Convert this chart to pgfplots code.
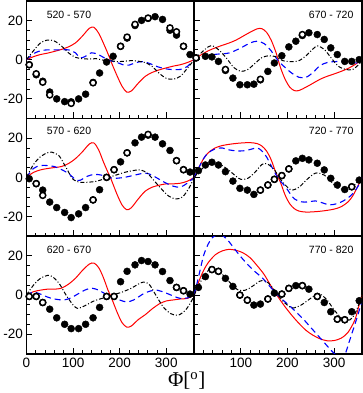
\documentclass[border=0pt]{standalone}
\usepackage{fontspec}
\setmainfont{Liberation Sans}
\newfontfamily\seriffont{Liberation Serif}
\usepackage{pgfplots}
\pgfplotsset{compat=1.18}
\usepgfplotslibrary{groupplots}

\pgfplotsset{
  redline/.style={color=red, line width=1pt, smooth, no markers},
  blueline/.style={color=blue, line width=1.1pt, dash pattern=on 6pt off 4pt, smooth, no markers},
  blackline/.style={color=black, line width=1pt, dash pattern=on 4pt off 2pt on 1pt off 2pt, smooth, no markers},
  fdot/.style={only marks, mark=*, mark size=3.5pt, mark options={fill=black, draw=black, solid}},
  odot/.style={only marks, mark=*, mark size=3pt, mark options={fill=white, draw=black, line width=1.5pt, solid}},
}
\tikzset{plabel/.style={font=\fontsize{10.5}{12}\selectfont, inner sep=0pt}}

\begin{document}
\begin{tikzpicture}
\begin{groupplot}[
  group style={group size=2 by 3, horizontal sep=0pt, vertical sep=0pt,
    xticklabels at=edge bottom, yticklabels at=edge left},
  width=167.5pt, height=117.5pt, scale only axis,
  xmin=0, xmax=360, ymin=-30, ymax=30,
  xtick={0,100,200,300}, minor x tick num=4,
  ytick={-20,0,20}, minor y tick num=3,
  tick align=inside, tick pos=left,
  axis line style={line width=1.6pt},
  major tick style={line width=0.8pt, black},
  minor tick style={line width=0.8pt, black},
  major tick length=6pt, minor tick length=3.5pt,
  tick label style={font=\fontsize{13.5}{14}\selectfont},
  /pgf/number format/assume math mode=true,
  xticklabel style={yshift=-1pt},
]
% 520 - 570
\nextgroupplot
\addplot[redline] coordinates {(0,0)(15,1.5)(30,2.6)(45,3.3)(60,4.2)(75,5.2)(90,6.5)(105,8.5)(120,12)(135,16)(145,16.5)(155,13.5)(165,8.5)(175,3)(180,0)(185,-3)(195,-8.5)(205,-13.5)(215,-16.5)(225,-16)(240,-12)(255,-8.5)(270,-6.5)(285,-5.2)(300,-4.2)(315,-3.3)(330,-2.6)(345,-1.5)(360,0)};
\addplot[blueline] coordinates {(0,0)(15,3)(30,4.5)(45,5)(60,5)(75,5)(90,5)(105,3.5)(115,1)(125,1.5)(140,3.5)(155,2.5)(170,0.5)(180,-0.5)(195,-1.5)(210,-2.8)(220,-2.8)(235,-1.5)(250,-1)(265,-2)(280,-3.5)(295,-4.5)(310,-5)(330,-5)(345,-3.5)(360,0)};
\addplot[blackline] coordinates {(0,0)(15,4.5)(30,8.5)(45,10)(60,9.5)(75,7)(90,3.5)(105,1.2)(120,0.5)(135,0.3)(150,0.5)(165,-0.3)(180,-0.5)(195,-1)(210,-0.8)(225,-0.5)(240,-0.8)(255,-1.5)(270,-3.5)(285,-7)(300,-9.5)(315,-10)(330,-8.5)(345,-4.5)(360,0)};
\addplot[fdot] coordinates {(6,-2.6)(21,-7.7)(35,-11)(50,-16.5)(65,-20)(82,-21.4)(96,-21.5)(112,-20)(127,-17.6)(143,-11.6)(157,-6.8)(172,-1.2)(186,1.7)(202,6.8)(216,11)(233,17.4)(247,20)(261,21)(276,21.9)(292,20.5)(308,15)(322,12.5)(337,6.8)(351,2.6)};
\addplot[odot] coordinates {(6,-2.6)(21,-7.2)(35,-11.5)(50,-18)(96,-22.3)(143,-11.8)(202,6.8)(216,11.5)(233,18)(261,21.2)(308,16.2)(322,14.2)(337,6.8)};
\node[plabel, anchor=north west] at (rel axis cs:0.12,0.915) {520 - 570};

% 670 - 720
\nextgroupplot
\addplot[redline] coordinates {(0,0)(15,2.5)(30,4.5)(45,6)(60,7.3)(75,8.5)(90,10)(105,12)(120,14)(135,15.7)(145,15.8)(155,14)(165,10)(175,4)(180,0)(185,-4)(195,-10)(205,-14)(215,-15.8)(225,-15.7)(240,-14)(255,-12)(270,-10)(285,-8.5)(300,-7.3)(315,-6)(330,-4.5)(345,-2.5)(360,0)};
\addplot[blueline] coordinates {(0,0)(20,1.5)(45,2.7)(75,3.4)(100,6)(120,8.5)(135,9.4)(150,8.2)(165,4.5)(180,-0.5)(195,-4)(210,-7)(225,-9)(240,-9)(255,-6.5)(270,-3)(285,-1.5)(300,-1)(330,-1)(350,-1.7)(360,0)};
\addplot[blackline] coordinates {(0,0)(15,3.5)(30,6.5)(40,7)(55,4.5)(70,0.5)(85,-4)(100,-6)(115,-5)(130,-2)(145,1)(160,2)(175,1.5)(190,-0.5)(210,-1)(225,-0.5)(240,2)(255,5.5)(265,7)(280,5)(295,0.5)(310,-3.5)(325,-5)(340,-5)(355,-2)(360,0)};
\addplot[fdot] coordinates {(4,0.9)(24,1.7)(38,1.4)(52,-0.9)(67,-5.5)(83,-9.4)(98,-12.8)(114,-12.8)(128,-12.5)(142,-10.3)(158,-6)(172,-1.7)(188,2)(203,6.5)(218,9.4)(232,12.3)(246,13.7)(264,12.8)(279,10.3)(293,6)(307,2.6)(323,-0.9)(338,-0.9)(354,0)};
\addplot[odot] coordinates {(4,0.9)(67,-5)(142,-10)(232,12.8)};
\node[plabel, anchor=north east] at (rel axis cs:0.95,0.915) {670 - 720};

% 570 - 620
\nextgroupplot
\addplot[redline] coordinates {(0,0)(15,2.5)(30,3.8)(45,4.5)(60,5)(75,5.5)(90,7)(105,9.5)(120,13)(135,17)(145,17.5)(155,14)(165,8)(175,2.5)(180,0)(185,-3)(195,-9)(205,-14)(215,-16.5)(225,-15.5)(240,-11)(255,-7)(270,-5)(285,-4)(300,-3.3)(315,-3.3)(330,-3)(345,-2)(360,0)};
\addplot[blueline] coordinates {(0,0)(15,4.5)(30,6)(45,6)(60,5.5)(75,4)(90,2)(105,-1)(115,-1.5)(130,0.5)(145,1.5)(160,1.2)(175,0)(190,-0.5)(210,0)(230,1)(255,2.2)(270,1)(285,-1)(300,-3)(315,-4.5)(330,-5)(345,-3)(360,0)};
\addplot[blackline] coordinates {(0,0)(15,6.5)(30,10.5)(45,12.5)(55,12.8)(70,11)(85,5)(100,-1)(115,-2.5)(130,-2.5)(150,-2)(170,-0.5)(190,1)(210,2.5)(230,3.5)(245,3.8)(260,2)(275,-2)(290,-6)(305,-9.5)(320,-11)(335,-10)(350,-5)(360,0)};
\addplot[fdot] coordinates {(6,-0.7)(21,-3.2)(35,-6.5)(50,-12.6)(65,-15.4)(82,-17.9)(96,-20.5)(112,-18.6)(127,-15.4)(143,-11.5)(157,-6.3)(172,0)(188,3.9)(202,7.9)(216,12.5)(233,17.6)(247,20.5)(261,21.5)(276,20.5)(292,17.1)(308,13.7)(322,8.5)(337,3.9)(351,2.7)};
\addplot[odot] coordinates {(21,-3.2)(35,-9.2)(143,-11.5)(172,0)(188,3.9)(216,12.5)(261,21.9)(322,8.5)(337,3.9)};
\node[plabel, anchor=north west] at (rel axis cs:0.12,0.93) {570 - 620};

% 720 - 770
\nextgroupplot
\addplot[redline] coordinates {(0,0)(10,5)(20,9.5)(30,12.5)(45,15)(60,16.2)(80,17)(100,17.5)(120,17.7)(135,17.2)(145,16)(155,13.5)(165,9)(175,2.5)(180,0)(185,-2.5)(195,-9)(205,-13.5)(215,-16)(225,-17.2)(240,-17.7)(260,-17.5)(280,-17)(300,-16.2)(315,-15)(330,-12.5)(340,-9.5)(350,-5)(360,0)};
\addplot[blueline] coordinates {(0,0)(10,5)(20,9.5)(30,12.5)(45,14.5)(60,15)(75,14)(90,13.5)(105,13.5)(120,14.2)(135,15)(145,13.5)(155,10.5)(165,6)(175,1.5)(185,-2)(195,-4.5)(205,-8)(215,-11)(230,-12.5)(245,-12.5)(260,-12)(275,-13)(290,-14)(305,-13.5)(320,-12)(335,-9.5)(345,-7)(355,-3)(360,0)};
\addplot[blackline] coordinates {(0,0)(15,4)(30,6.5)(45,7)(60,6)(75,3.5)(90,0.5)(100,-1)(115,-0.5)(130,2.5)(145,6.5)(155,7)(170,4.5)(185,-1)(200,-5)(210,-6.5)(225,-5)(240,-1.5)(255,1.5)(265,2.3)(280,1)(295,-2.5)(310,-5.5)(325,-6.2)(340,-4.8)(355,-1)(360,0)};
\addplot[fdot] coordinates {(9,3.4)(24,6.3)(38,7.7)(52,6.3)(67,2.9)(83,-1.9)(98,-5.6)(114,-6.5)(128,-8.7)(142,-6.5)(158,-3.9)(172,-1)(188,0.9)(203,4.3)(218,8.4)(232,9.7)(246,8.9)(264,7.2)(279,3.8)(293,-0.5)(307,-3.9)(323,-6.2)(338,-4.8)(354,-1.4)};
\addplot[odot] coordinates {(142,-6.5)(158,-3.9)(172,-1)(188,0.9)(203,4.3)(338,-4.8)};
\node[plabel, anchor=north east] at (rel axis cs:0.95,0.93) {720 - 770};

% 620 - 670
\nextgroupplot
\addplot[redline] coordinates {(0,0)(15,1.7)(30,2.5)(45,3)(60,3)(75,3.5)(90,5.5)(105,8.5)(120,12.5)(135,15.8)(145,16.3)(155,14)(165,9)(175,2.5)(180,0)(185,-3)(195,-9)(205,-14)(215,-16.3)(225,-15.8)(240,-12.5)(255,-10)(270,-7)(285,-4.5)(300,-3)(315,-2.5)(330,-2)(345,-1.7)(360,0)};
\addplot[blueline] coordinates {(0,0)(15,1.5)(30,0.5)(45,-1)(60,-2)(80,-2.5)(95,-1.5)(110,0.5)(125,2.5)(140,3.5)(155,2.5)(170,0.5)(185,-0.8)(200,-2.5)(215,-3.5)(230,-2.5)(250,0.5)(265,2)(280,2.5)(300,1)(315,-0.5)(330,-1.7)(345,-1.5)(360,0)};
\addplot[blackline] coordinates {(0,0)(15,5)(30,8.5)(45,10)(55,9.5)(70,6)(85,0)(100,-5)(110,-6.8)(125,-5.5)(145,-3)(165,-1.5)(185,0)(205,1.5)(225,3.5)(245,6.2)(255,6.5)(265,5)(280,-1)(295,-6.5)(310,-9.5)(325,-10.3)(340,-8)(352,-4)(360,0)};
\addplot[fdot] coordinates {(6,-0.7)(21,-0.7)(35,-3.8)(50,-7.2)(65,-11.6)(82,-14.9)(96,-17.1)(112,-17.1)(127,-14.9)(143,-11.6)(157,-6.3)(172,-0.7)(188,-0.7)(202,6.8)(216,12.1)(233,15.4)(247,17.6)(261,17.1)(276,15.4)(292,12)(308,7.4)(322,3.9)(337,2.2)(351,0.5)};
\addplot[odot] coordinates {(6,-0.7)(21,-0.7)(35,-3.8)(172,-0.7)(188,-0.7)(322,3.9)(337,2.2)};
\node[plabel, anchor=north west] at (rel axis cs:0.12,0.92) {620 - 670};

% 770 - 820
\nextgroupplot[xticklabels={{},100,200,300}]
\addplot[redline] coordinates {(0,0)(10,7)(20,12.5)(30,16.5)(45,20.5)(60,22.5)(75,23.3)(90,22.8)(105,21.5)(120,19)(135,15)(150,10.5)(165,4.5)(180,-1)(195,-6)(210,-10.5)(225,-14.5)(240,-18)(255,-20.5)(270,-22.3)(285,-23.3)(300,-23.2)(315,-22)(330,-19)(345,-12.5)(355,-4)(360,0)};
\addplot[blueline] coordinates {(0,0)(10,10)(20,20)(30,26)(40,29.5)(55,31)(70,28.5)(85,24)(100,19.5)(115,15.5)(130,12)(145,9)(160,5)(175,1)(190,-2.5)(205,-5.5)(220,-9)(235,-12.5)(250,-16.5)(265,-20.5)(280,-24.5)(295,-28.5)(310,-31.5)(322,-31)(335,-22)(350,-11)(360,-3)};
\addplot[blackline] coordinates {(0,0)(10,5)(20,9.5)(30,12.5)(40,13.5)(50,12.5)(65,9.5)(80,5.5)(95,2.5)(110,2.5)(125,4.5)(140,7)(150,7.3)(160,6)(175,1.5)(190,-3)(205,-6)(215,-6.5)(230,-5)(245,-2.5)(260,0)(270,0.5)(285,-2.5)(300,-7.5)(315,-11.5)(325,-13)(335,-12.5)(345,-9.5)(355,-3.5)(360,0)};
\addplot[fdot] coordinates {(9,3.9)(24,9.4)(38,13)(52,12.1)(67,8.5)(83,4.4)(98,0)(114,-2.6)(128,-5.1)(142,-4.6)(158,-2)(172,1)(188,0.5)(203,3.4)(218,4.8)(232,4.8)(246,3)(264,-0.7)(279,-3.8)(293,-8.5)(307,-12.3)(323,-12.6)(338,-8.5)(354,-2.9)};
\addplot[odot] coordinates {(38,13)(52,12.1)(98,0)(114,-2.6)(158,-2)(188,0.5)(203,3.4)(232,4.8)(264,-0.7)(307,-12.3)(323,-12.6)};
\node[plabel, anchor=north east] at (rel axis cs:0.95,0.92) {770 - 820};
\end{groupplot}
\path (group c2r3.south west) ++(-7.5pt,-27pt)
  node[font=\fontsize{21}{22}\selectfont\seriffont, anchor=center] {Φ[\textsuperscript{o}]};
\end{tikzpicture}
\end{document}
